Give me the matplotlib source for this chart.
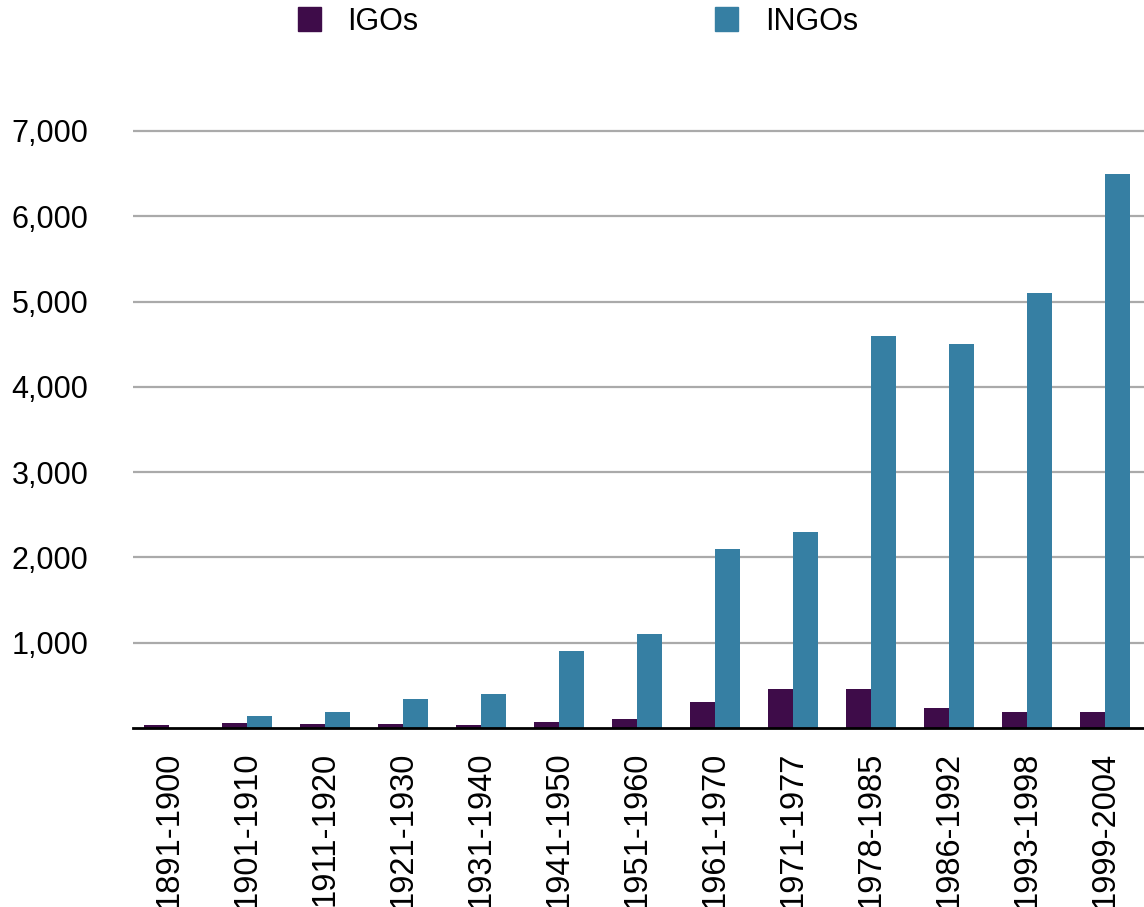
import numpy as np
import matplotlib
matplotlib.use("Agg")
import matplotlib.pyplot as plt
from matplotlib.patches import Patch

plt.rcParams["font.family"] = ["Liberation Sans", "DejaVu Sans"]

# periods and counts
periods = ["1891-1900", "1901-1910", "1911-1920", "1921-1930", "1931-1940",
           "1941-1950", "1951-1960", "1961-1970", "1971-1977", "1978-1985",
           "1986-1992", "1993-1998", "1999-2004"]
igos = [40, 63, 51, 50, 39, 75, 110, 300, 453, 453, 240, 193, 193]
ingos = [0, 145, 193, 346, 394, 900, 1100, 2100, 2300, 4600, 4500, 5100, 6500]
yticks = [1000, 2000, 3000, 4000, 5000, 6000, 7000]

c_igo = "#3e0c49"
c_ingo = "#367fa3"

fig = plt.figure(figsize=(11.44, 9.07), dpi=100)
ax = fig.add_axes([0.1163, 0.1973, 0.8837, 0.6612])

x = np.arange(len(periods))
w = 0.32
ax.bar(x - w, igos, width=w, align="edge", color=c_igo, zorder=3)
ax.bar(x, ingos, width=w, align="edge", color=c_ingo, zorder=3)

ax.set_xlim(-0.46, 12.5)
ax.set_ylim(0, 7030)
ax.set_yticks(yticks)
ax.set_yticklabels([f"{v:,}" for v in yticks])
ax.set_xticks(x)
ax.set_xticklabels(periods, rotation=90, va="top", ha="center")
ax.tick_params(axis="both", length=0, colors="black")
ax.tick_params(axis="y", pad=32, labelsize=22)
ax.tick_params(axis="x", pad=17, labelsize=23.5)

ax.grid(axis="y", color="#aaaaaa", linewidth=1.6, zorder=0)
for s in ["top", "right", "left"]:
    ax.spines[s].set_visible(False)
ax.spines["bottom"].set_color("black")
ax.spines["bottom"].set_linewidth(2)
ax.spines["bottom"].set_zorder(4)

handles = [Patch(color=c_igo, label="IGOs"), Patch(color=c_ingo, label="INGOs")]
fig.legend(handles=handles, ncol=2, loc="center", bbox_to_anchor=(0.505, 0.976),
           frameon=False, fontsize=22, handlelength=0.75, handleheight=0.8,
           handletextpad=0.88, columnspacing=9.7)

fig.savefig("out.png", dpi=100)
